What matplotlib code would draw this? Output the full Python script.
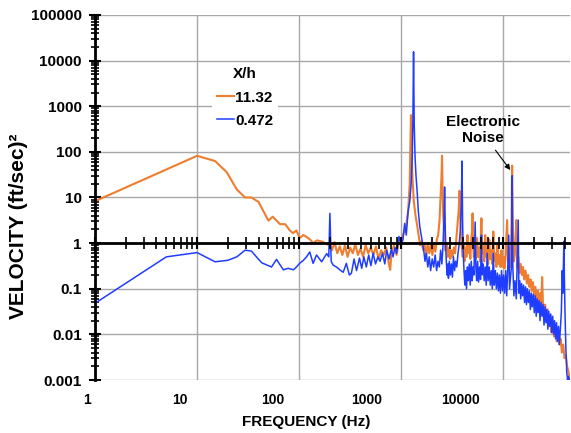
import matplotlib
matplotlib.use('Agg')
import matplotlib.pyplot as plt
import matplotlib.transforms as mtransforms
from matplotlib.ticker import FixedLocator, FixedFormatter, LogLocator, NullLocator

plt.rcParams['font.family'] = ['Liberation Sans', 'DejaVu Sans']

# X/h = 11.32 (orange)
orange_freq = [1, 10, 15, 19.5, 24.5, 29.5, 34, 40, 50, 55, 65, 73, 81, 87, 94, 101, 110, 118, 128, 137, 150, 170, 185, 200,
               210, 222, 236, 250, 265, 281, 298, 316, 335, 355, 376, 399, 423, 448, 475, 503, 533, 565, 599, 635, 673, 713, 756, 780, 801, 849, 900, 954, 1000,
               1040, 1080, 1120, 1170, 1210, 1230, 1245, 1260, 1290, 1330, 1380, 1430, 1480, 1530, 1580, 1640,
               1700, 1760, 1820, 1880, 1950, 2020, 2090, 2160, 2230, 2300,
               2370, 2430, 2480, 2510, 2540, 2580, 2640, 2700, 2780, 2860,
               2940, 3020, 3100, 3190, 3280, 3370, 3460, 3560, 3650, 3720,
               3780, 3850, 3920, 4000, 4080, 4160, 4250, 4350, 4450, 4550,
               4650, 4750, 4850, 4950, 5000, 5050, 5150, 5280, 5400, 5520,
               5650, 5780, 5920, 6050, 6100, 6200, 6350, 6500, 6650, 6800,
               6950, 7100, 7280, 7450, 7620, 7800, 7980, 8150, 8350, 8550,
               8750, 8950, 9150, 9370, 9600, 9820, 10050, 10300, 10550, 10900,
               11100, 11400, 11700, 12000, 12200, 12400, 12700, 13000, 13400, 13700,
               14000, 14400, 14800, 15200, 15600, 16000, 16500, 17000, 17500, 18000,
               18500, 19000, 19500, 20000, 20600, 21200, 21800, 22400, 23000, 23600,
               24000, 24500, 25000, 25700, 26400, 27200, 28000, 28800, 29600, 30500,
               31400, 32300, 33300, 34300, 35300, 36400, 37500, 38600, 39800, 41000,
               42200, 43500, 45000]
orange_vel = [8.3, 82, 63, 36, 15, 10, 10, 8, 3.1, 3.8, 2.6, 2.6, 1.9, 1.65, 1.9, 1.3, 1.5, 1.37, 1.2, 1.0, 1.15, 1.07, 0.95, 0.9,
              0.7, 1.05, 0.6, 0.85, 0.55, 0.9, 0.5, 0.8, 0.6, 0.95, 0.55, 0.75, 0.5, 0.9, 0.6, 0.8, 0.55, 0.85, 0.45, 0.7, 0.55, 0.8, 0.35, 0.26, 0.6, 0.9, 0.55, 1.2, 0.9,
              1.5, 1.9, 2.5, 5.3, 20, 150, 640, 120, 25, 8, 4, 2.5, 1.5, 0.9, 1.1, 0.7,
              0.9, 0.55, 1.0, 0.6, 0.9, 0.55, 1.0, 0.65, 1.2, 1.5,
              3, 10, 30, 82, 15, 4, 1.5, 0.7, 1.0, 0.5,
              0.8, 0.45, 0.7, 0.5, 0.8, 0.6, 1.2, 2.5, 5, 14,
              4, 1.5, 0.8, 0.5, 0.9, 0.4, 0.8, 0.5, 1.5, 0.6,
              1.0, 0.45, 1.2, 2.0, 4.5, 1.0, 0.5, 0.9, 0.45, 1.3,
              0.5, 0.8, 0.4, 2.0, 3.5, 0.6, 0.9, 0.4, 1.5, 0.5,
              0.8, 0.35, 1.2, 0.45, 0.7, 0.35, 1.8, 0.4, 0.6, 0.3,
              0.9, 0.35, 0.55, 0.3, 0.7, 0.3, 0.5, 0.28, 0.6, 3.2,
              0.4, 0.8, 0.3, 1.5, 50, 2.0, 0.4, 0.6, 3.2, 0.3,
              0.5, 0.22, 0.35, 0.2, 0.3, 0.16, 0.25, 0.13, 0.2, 0.11,
              0.16, 0.09, 0.14, 0.07, 0.11, 0.06, 0.09, 0.05, 0.08, 0.045,
              0.18, 0.04, 0.03, 0.045, 0.02, 0.035, 0.015, 0.025, 0.011, 0.018,
              0.009, 0.014, 0.007, 0.011, 0.006, 0.008, 0.004, 0.006, 0.003, 0.0035,
              0.002, 0.0015, 0.001]

# X/h = 0.472 (blue)
blue_freq = [1, 5, 10, 15, 20, 24.5, 29.5, 34, 43, 53.6, 60, 70, 78, 88, 94, 101, 110, 118, 127, 137, 148, 166, 186, 195, 200, 206, 215, 232, 250, 270, 290, 310, 325,
             345, 365, 390, 410, 430, 455, 480, 505, 530, 560, 590, 620, 655, 690, 720, 760, 800, 830, 870, 900, 950, 1000,
             1040, 1080, 1120, 1170, 1210, 1250, 1280, 1300, 1320, 1340, 1365, 1395, 1430, 1470, 1520, 1570, 1620, 1660,
             1710, 1760, 1820, 1880, 1940, 2010, 2080, 2150, 2220, 2290,
             2360, 2430, 2500, 2560, 2620, 2660, 2700, 2750, 2810, 2870,
             2900, 2960, 3030, 3100, 3170, 3250, 3330, 3410, 3500, 3600,
             3700, 3800, 3870, 3940, 3990, 4050, 4120, 4200, 4280, 4360,
             4450, 4540, 4640, 4740, 4850, 4950, 5050, 5150, 5300, 5380,
             5480, 5600, 5720, 5850, 5980, 6100, 6200, 6350, 6500, 6650,
             6800, 6950, 7100, 7280, 7450, 7620, 7800, 7980, 8150, 8350,
             8550, 8750, 8950, 9150, 9370, 9600, 9820, 10050, 10300, 10550,
             10800, 11000, 11300, 11500, 11800, 12000, 12200, 12400, 12700, 13000,
             13400, 14000,
             14200, 14500, 14800, 15100, 15450, 15800, 16150, 16500, 16850, 17200,
             17600, 18000, 18400, 18800, 19200, 19650, 20100, 20550, 21000, 21450,
             21900, 22400, 22900, 23400, 23950, 24500, 25050, 25600, 26150, 26700,
             27300, 27900, 28500, 29150, 29800, 30450, 31100, 31800, 32500, 33200,
             33950, 34700, 35450, 36200, 37000,
             37800, 38300, 38800, 39200, 39600, 40200, 41000, 41800, 42600, 43500, 44500]
blue_vel = [0.048, 0.5, 0.62, 0.39, 0.42, 0.5, 0.7, 0.67, 0.37, 0.3, 0.44, 0.26, 0.28, 0.26, 0.3, 0.36, 0.42, 0.5, 0.64, 0.36, 0.55, 0.39, 0.59, 0.5, 4.5, 0.4, 0.33, 0.3, 0.26, 0.23, 0.36, 0.2, 0.22,
            0.45, 0.25, 0.47, 0.28, 0.5, 0.3, 0.55, 0.32, 0.6, 0.35, 0.5, 0.4, 0.6, 0.35, 0.7, 0.45, 0.75, 0.5, 0.8, 0.6, 1.4, 0.9,
            1.2, 2.7, 1.5, 5.3, 8, 20, 70, 500, 15600, 400, 80, 30, 14, 5, 2.3, 1.5, 1.0, 0.7,
            0.4, 0.6, 0.3, 0.5, 0.25, 0.45, 0.3, 0.55, 0.25, 0.4,
            0.3, 0.7, 0.35, 0.8, 3, 17, 2, 0.5, 0.2, 0.35,
            0.17, 0.4, 0.2, 0.35, 0.18, 0.5, 0.25, 0.4, 0.3, 0.6,
            1.0, 2, 6, 63, 3, 0.6, 0.25, 0.12, 0.25, 0.1,
            0.3, 0.15, 0.35, 0.12, 0.4, 0.15, 0.3, 0.2, 2.9, 0.3,
            0.15, 0.4, 0.14, 0.3, 0.16, 1.5, 0.2, 0.35, 0.15, 0.3,
            0.12, 0.6, 0.15, 0.3, 0.12, 0.25, 0.1, 0.6, 0.12, 0.25,
            0.1, 0.22, 0.09, 0.2, 0.08, 0.25, 0.09, 0.2, 0.08, 0.25,
            0.07, 0.2, 1.5, 0.1, 0.2, 0.3, 30, 0.3, 0.07, 0.15,
            0.06, 3.2,
            0.08, 0.15, 0.06, 0.13, 0.07, 0.12, 0.05, 0.11, 0.045, 0.1,
            0.05, 0.09, 0.035, 0.08, 0.04, 0.075, 0.03, 0.07, 0.025, 0.06,
            0.03, 0.055, 0.02, 0.05, 0.025, 0.045, 0.016, 0.04, 0.018, 0.035,
            0.013, 0.032, 0.015, 0.028, 0.011, 0.025, 0.01, 0.02, 0.008, 0.018,
            0.007, 0.015, 0.006, 0.013, 0.03,
            0.25, 0.08, 0.4, 1.1, 0.2, 0.03, 0.005, 0.0015, 0.001, 0.0012, 0.001]

x_ticks = [1, 10, 100, 1000, 10000]
x_tick_labels = ['1', '10', '100', '1000', '10000']
y_ticks = [0.001, 0.01, 0.1, 1, 10, 100, 1000, 10000, 100000]
y_tick_labels = ['0.001', '0.01', '0.1', '1', '10', '100', '1000', '10000', '100000']

orange = '#ef7d30'
blue = '#1f3dff'

fig = plt.figure(figsize=(5.71, 4.33), dpi=100)
ax = fig.add_axes([95 / 571, 1 - 380 / 433, 475 / 571, 365 / 433])

ax.plot(orange_freq, orange_vel, color=orange, lw=1.5, label='11.32')
ax.plot(blue_freq, blue_vel, color=blue, lw=1.1, label='0.472')

ax.set_xscale('log')
ax.set_yscale('log')
ax.set_xlim(1, 45000)
ax.set_ylim(0.001, 100000)

ax.grid(True, which='major', color='#a8a8a8', lw=1)
for s in ['top', 'right', 'bottom']:
    ax.spines[s].set_visible(False)
ax.spines['left'].set_linewidth(2)

# y axis: major + minor ticks crossing the spine
ax.yaxis.set_major_locator(FixedLocator(y_ticks))
ax.yaxis.set_major_formatter(FixedFormatter(y_tick_labels))
ax.yaxis.set_minor_locator(LogLocator(base=10, subs=range(2, 10), numticks=20))
ax.tick_params(axis='y', which='major', direction='inout', length=9, width=1.5, pad=5, labelsize=11)
ax.tick_params(axis='y', which='minor', direction='inout', length=6, width=1.2)
for lab in ax.get_yticklabels():
    lab.set_fontweight('bold')

# x labels at the bottom, no ticks there
ax.xaxis.set_major_locator(FixedLocator(x_ticks))
ax.xaxis.set_major_formatter(FixedFormatter(x_tick_labels))
ax.xaxis.set_minor_locator(NullLocator())
ax.tick_params(axis='x', which='both', length=0, pad=9, labelsize=10)

# the black frequency axis crosses at y = 1
sec = ax.secondary_xaxis(0.375)
sec.set_zorder(5)
sec.spines['bottom'].set_linewidth(2)
sec.spines['top'].set_linewidth(2)
sec.xaxis.set_minor_locator(LogLocator(base=10, subs=range(2, 10), numticks=20))
sec.tick_params(axis='x', which='major', direction='inout', length=9, width=1.5, labelbottom=False, labeltop=False)
sec.tick_params(axis='x', which='minor', direction='inout', length=8, width=1.2, labelbottom=False, labeltop=False)

ax.set_xlabel('FREQUENCY (Hz)', fontsize=11, fontweight='bold')
ax.xaxis.set_label_coords(0.444, -0.095)
ax.set_ylabel('VELOCITY (ft/sec)²', fontsize=15, fontweight='bold')
ax.yaxis.set_label_coords(-0.14, 0.42)

leg = ax.legend(title='X/h', loc='upper center', bbox_to_anchor=(0.316, 0.89),
                prop={'weight': 'bold', 'size': 11}, title_fontproperties={'weight': 'bold', 'size': 11},
                handlelength=1.1, handletextpad=0.1, labelspacing=0.6, borderpad=0.3,
                frameon=True, fancybox=False, framealpha=1, edgecolor='none', facecolor='white')

ax.annotate('Electronic\nNoise', xy=(11700, 40), xytext=(6300, 300), ha='center', va='center',
            fontsize=11, fontweight='bold',
            arrowprops=dict(arrowstyle='-|>', color='black', lw=0.8, mutation_scale=8, relpos=(0.62, 0), shrinkA=2, shrinkB=0))

# excel-style shift of the x tick labels
x_label_shift_px = [-8, -17, -26, -35, -43]
for lab, dx in zip(ax.get_xticklabels(), x_label_shift_px):
    lab.set_fontweight('bold')
    lab.set_transform(lab.get_transform() + mtransforms.ScaledTranslation(dx / 100, 0, fig.dpi_scale_trans))

fig.savefig('out.png', dpi=100)
